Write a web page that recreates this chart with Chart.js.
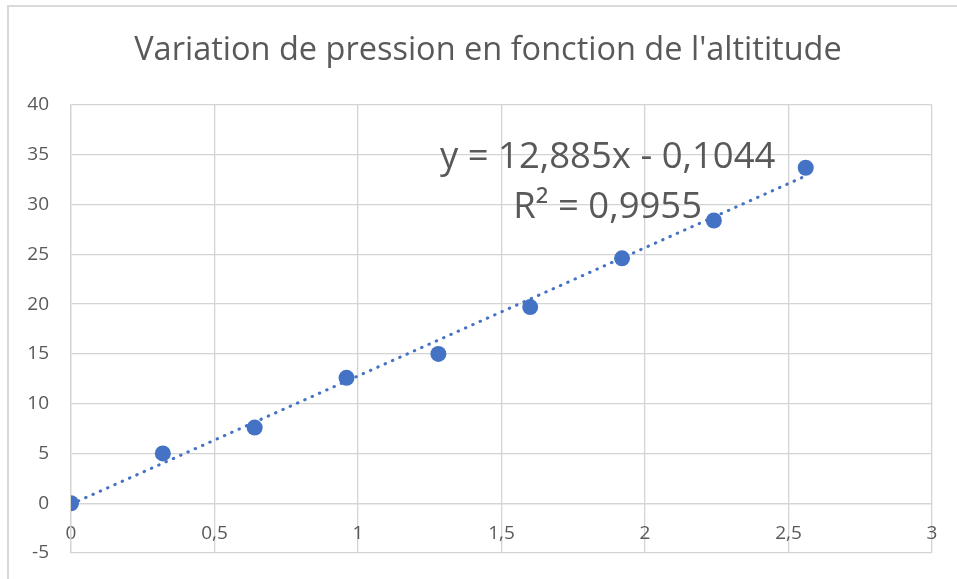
<!DOCTYPE html>
<html>
<head>
<meta charset="utf-8">
<script src="https://cdn.jsdelivr.net/npm/chart.js@4"></script>
<style>
  html, body { margin: 0; padding: 0; background: #fff; overflow: hidden; }
  #frame { position: absolute; left: 7px; top: 5px; width: 1000px; height: 1000px;
           border-left: 2px solid #d9d9d9; border-top: 2px solid #d9d9d9; }
  #chart { position: absolute; left: 0; top: 0; }
</style>
</head>
<body>
<div id="frame"></div>
<canvas id="chart" width="957" height="579"></canvas>
<script>
// Altitude (x) and pressure variation (y)
const altitude = [0, 0.32, 0.64, 0.96, 1.28, 1.6, 1.92, 2.24, 2.56];
const pressure = [0, 5.0, 7.6, 12.6, 15.0, 19.7, 24.6, 28.4, 33.7];

// Linear trendline end points (dotted line)
const trendX = [0, 2.56];
const trendY = [-0.10, 32.88];

// Axis ticks
const xTicks = [0, 0.5, 1, 1.5, 2, 2.5, 3];
const yTicks = [-5, 0, 5, 10, 15, 20, 25, 30, 35, 40];

// Texts
const chartTitle = "Variation de pression en fonction de l'altititude";
const equationLines = ['y = 12,885x - 0,1044', 'R\u00b2 = 0,9955'];

const gray = '#595959';
const gridColor = '#d4d4d4';
const blue = '#4472C4';
const fontFamily = '"Open Sans", sans-serif';

const fmt = v => String(v).replace('.', ',');

// Title (centred on the whole Excel chart, not on the plot) and the trendline equation
const textLayer = {
    id: 'textLayer',
    afterDatasetsDraw(chart) {
        const ctx = chart.ctx;
        const xs = chart.scales.x;
        const ys = chart.scales.y;
        ctx.save();
        ctx.fillStyle = gray;
        ctx.textAlign = 'center';
        ctx.textBaseline = 'alphabetic';

        ctx.font = '32.5px ' + fontFamily;
        ctx.fillText(chartTitle, 488, 60);

        ctx.font = '36.5px ' + fontFamily;
        const cx = xs.getPixelForValue(1.87);
        ctx.fillText(equationLines[0], cx, ys.getPixelForValue(33.7));
        ctx.fillText(equationLines[1], cx, ys.getPixelForValue(28.6));
        ctx.restore();
    }
};

const ctx = document.getElementById('chart').getContext('2d');
const chart = new Chart(ctx, {
    type: 'scatter',
    data: {
        datasets: [
            {
                label: 'Trendline',
                type: 'line',
                data: trendX.map((x, i) => ({ x: x, y: trendY[i] })),
                borderColor: blue,
                borderWidth: 3,
                borderDash: [0.5, 7.5],
                borderCapStyle: 'round',
                pointRadius: 0,
                fill: false,
                order: 0
            },
            {
                label: 'Pression',
                data: altitude.map((x, i) => ({ x: x, y: pressure[i] })),
                backgroundColor: blue,
                borderWidth: 0,
                pointRadius: 8,
                order: 1
            }
        ]
    },
    options: {
        responsive: false,
        animation: false,
        layout: { padding: { left: 0, right: 25, top: 105, bottom: 26 } },
        plugins: {
            legend: { display: false },
            tooltip: { enabled: false },
            title: { display: false }
        },
        scales: {
            x: {
                type: 'linear',
                position: { y: 0 },
                min: 0,
                max: 3,
                afterBuildTicks: s => { s.ticks = xTicks.map(v => ({ value: v })); },
                grid: { color: gridColor, lineWidth: 1.3, drawTicks: false },
                border: { color: gridColor, width: 1.3 },
                ticks: {
                    color: gray,
                    padding: 19,
                    maxRotation: 0,
                    font: { family: fontFamily, size: 19 },
                    callback: v => fmt(v)
                }
            },
            y: {
                type: 'linear',
                min: -5,
                max: 40,
                afterBuildTicks: s => { s.ticks = yTicks.map(v => ({ value: v })); },
                afterFit: s => {
                    s.width = 71;
                    s.paddingTop = 12;
                    s.paddingBottom = 12;
                },
                grid: { color: gridColor, lineWidth: 1.3, drawTicks: false },
                border: { color: gridColor, width: 1.3 },
                ticks: {
                    color: gray,
                    padding: 22,
                    font: { family: fontFamily, size: 19 },
                    callback: v => fmt(v)
                }
            }
        }
    },
    plugins: [textLayer]
});
</script>
</body>
</html>
